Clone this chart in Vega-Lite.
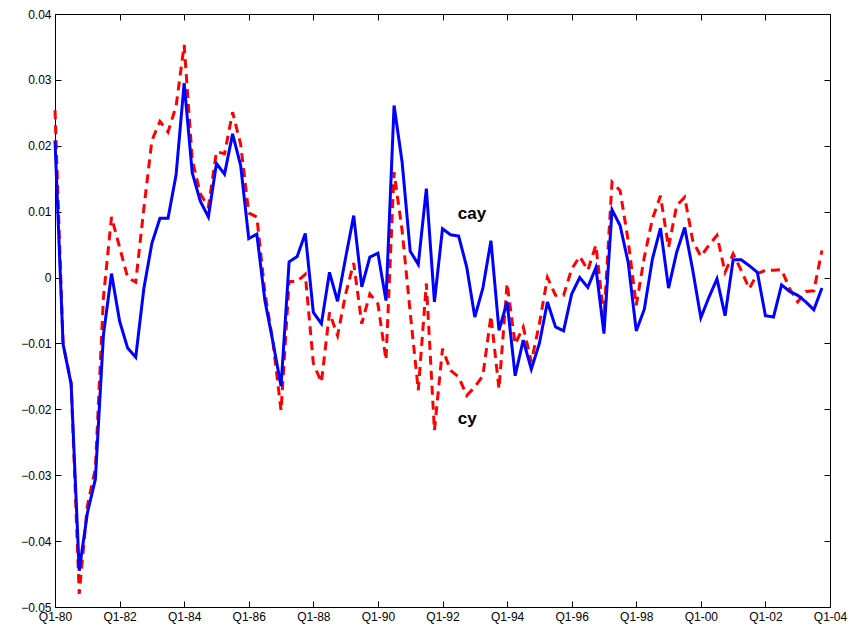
{
  "$schema": "https://vega.github.io/schema/vega-lite/v6.json",
  "width": 775,
  "height": 593,
  "autosize": "none",
  "padding": {"left": 55, "top": 14, "right": 23, "bottom": 30},
  "background": "white",
  "config": {
    "view": {"stroke": "black", "strokeWidth": 1},
    "font": "Liberation Sans",
    "axis": {"grid": false, "domain": false, "tickColor": "black", "tickSize": -6, "labelColor": "black", "labelFontSize": 12, "labelPadding": 10, "title": null}
  },
  "data": {"values": [
    {"t":0,"cay":0.0208,"cy":0.0254},{"t":1,"cay":-0.0101,"cy":-0.0101},{"t":2,"cay":-0.0162,"cy":-0.016},
    {"t":3,"cay":-0.0445,"cy":-0.048},{"t":4,"cay":-0.0358,"cy":-0.0347},{"t":5,"cay":-0.0306,"cy":-0.029},
    {"t":6,"cay":-0.0087,"cy":-0.003},{"t":7,"cay":0.0006,"cy":0.0092},{"t":8,"cay":-0.0066,"cy":0.0046},
    {"t":9,"cay":-0.0107,"cy":0.0},{"t":10,"cay":-0.0121,"cy":-0.0007},{"t":11,"cay":-0.0017,"cy":0.0104},
    {"t":12,"cay":0.0052,"cy":0.0208},{"t":13,"cay":0.009,"cy":0.0237},{"t":14,"cay":0.009,"cy":0.0221},
    {"t":15,"cay":0.0156,"cy":0.026},{"t":16,"cay":0.0295,"cy":0.0353},{"t":17,"cay":0.0159,"cy":0.0179},
    {"t":18,"cay":0.0116,"cy":0.0127},{"t":19,"cay":0.0092,"cy":0.0107},{"t":20,"cay":0.0173,"cy":0.0191},
    {"t":21,"cay":0.0157,"cy":0.0188},{"t":22,"cay":0.0218,"cy":0.0251},{"t":23,"cay":0.017,"cy":0.0202},
    {"t":24,"cay":0.0059,"cy":0.0098},{"t":25,"cay":0.0066,"cy":0.0092},{"t":26,"cay":-0.0035,"cy":-0.0023},
    {"t":27,"cay":-0.0098,"cy":-0.0098},{"t":28,"cay":-0.0165,"cy":-0.0202},{"t":29,"cay":0.0024,"cy":-0.0006},
    {"t":30,"cay":0.0032,"cy":-0.0006},{"t":31,"cay":0.0067,"cy":0.0005},{"t":32,"cay":-0.0053,"cy":-0.013},
    {"t":33,"cay":-0.007,"cy":-0.0159},{"t":34,"cay":0.0008,"cy":-0.0053},{"t":35,"cay":-0.0036,"cy":-0.0088},
    {"t":36,"cay":0.003,"cy":-0.0025},{"t":37,"cay":0.0094,"cy":0.0022},{"t":38,"cay":-0.0014,"cy":-0.007},
    {"t":39,"cay":0.0031,"cy":-0.0025},{"t":40,"cay":0.0037,"cy":-0.004},{"t":41,"cay":-0.0035,"cy":-0.0125},
    {"t":42,"cay":0.0261,"cy":0.016},{"t":43,"cay":0.0175,"cy":0.0071},{"t":44,"cay":0.004,"cy":-0.0053},
    {"t":45,"cay":0.002,"cy":-0.0171},{"t":46,"cay":0.0135,"cy":-0.0009},{"t":47,"cay":-0.0037,"cy":-0.0232},
    {"t":48,"cay":0.0074,"cy":-0.0108},{"t":49,"cay":0.0065,"cy":-0.0141},{"t":50,"cay":0.0063,"cy":-0.0151},
    {"t":51,"cay":0.0016,"cy":-0.0179},{"t":52,"cay":-0.006,"cy":-0.0166},{"t":53,"cay":-0.0016,"cy":-0.0149},
    {"t":54,"cay":0.0056,"cy":-0.0058},{"t":55,"cay":-0.008,"cy":-0.0169},{"t":56,"cay":-0.0037,"cy":-0.0009},
    {"t":57,"cay":-0.0149,"cy":-0.0101},{"t":58,"cay":-0.0095,"cy":-0.0075},{"t":59,"cay":-0.0139,"cy":-0.0128},
    {"t":60,"cay":-0.01,"cy":-0.007},{"t":61,"cay":-0.0037,"cy":0.0},{"t":62,"cay":-0.0075,"cy":-0.0027},
    {"t":63,"cay":-0.0081,"cy":-0.0027},{"t":64,"cay":-0.0025,"cy":0.0013},{"t":65,"cay":0.0,"cy":0.0032},
    {"t":66,"cay":-0.0015,"cy":0.0011},{"t":67,"cay":0.0015,"cy":0.0049},{"t":68,"cay":-0.0085,"cy":-0.006},
    {"t":69,"cay":0.0103,"cy":0.0145},{"t":70,"cay":0.0079,"cy":0.0132},{"t":71,"cay":0.0023,"cy":0.0056},
    {"t":72,"cay":-0.0081,"cy":-0.0042},{"t":73,"cay":-0.0048,"cy":0.0031},{"t":74,"cay":0.0028,"cy":0.0089},
    {"t":75,"cay":0.0075,"cy":0.0124},{"t":76,"cay":-0.0016,"cy":0.0046},{"t":77,"cay":0.0038,"cy":0.0109},
    {"t":78,"cay":0.0076,"cy":0.0122},{"t":79,"cay":0.0011,"cy":0.0056},{"t":80,"cay":-0.0061,"cy":0.0032},
    {"t":81,"cay":-0.003,"cy":0.0049},{"t":82,"cay":-0.0002,"cy":0.0064},{"t":83,"cay":-0.0058,"cy":0.0008},
    {"t":84,"cay":0.0027,"cy":0.0036},{"t":85,"cay":0.0027,"cy":0.0011},{"t":86,"cay":0.0018,"cy":-0.0017},
    {"t":87,"cay":0.0008,"cy":0.0006},{"t":88,"cay":-0.0058,"cy":0.0011},{"t":89,"cay":-0.006,"cy":0.0011},
    {"t":90,"cay":-0.0011,"cy":0.0012},{"t":91,"cay":-0.0021,"cy":-0.0017},{"t":92,"cay":-0.0027,"cy":-0.0037},
    {"t":93,"cay":-0.0037,"cy":-0.0021},{"t":94,"cay":-0.0049,"cy":-0.002},{"t":95,"cay":-0.0016,"cy":0.0041}
  ]},
  "layer": [
    {
      "mark": {"type": "line", "color": "#ff0000", "strokeWidth": 3, "strokeDash": [9, 6]},
      "encoding": {
        "x": {"field": "t", "type": "quantitative", "scale": {"domain": [0, 96], "nice": false},
          "axis": {"values": [0, 8, 16, 24, 32, 40, 48, 56, 64, 72, 80, 88, 96], "labelExpr": "'Q1-' + (datum.value/4 + 80 >= 100 ? '0' + (datum.value/4 - 20) : (datum.value/4 + 80))", "labelFlush": false, "labelOverlap": false}},
        "y": {"field": "cy", "type": "quantitative", "scale": {"domain": [-0.05, 0.04], "nice": false},
          "axis": {"values": [-0.05, -0.04, -0.03, -0.02, -0.01, 0, 0.01, 0.02, 0.03, 0.04], "format": ".2~f", "labelFlush": false, "labelOverlap": false}}
      }
    },
    {
      "mark": {"type": "line", "color": "#0000ff", "strokeWidth": 3},
      "encoding": {
        "x": {"field": "t", "type": "quantitative", "axis": {"orient": "top", "values": [0, 8, 16, 24, 32, 40, 48, 56, 64, 72, 80, 88, 96], "labels": false}},
        "y": {"field": "cay", "type": "quantitative", "axis": {"orient": "right", "values": [-0.05, -0.04, -0.03, -0.02, -0.01, 0, 0.01, 0.02, 0.03, 0.04], "labels": false}}
      }
    },
    {
      "data": {"values": [{"t": 49.9, "v": 0.0097, "label": "cay"}, {"t": 49.9, "v": -0.0215, "label": "cy"}]},
      "mark": {"type": "text", "align": "left", "fontWeight": "bold", "fontSize": 17, "color": "black"},
      "encoding": {
        "x": {"field": "t", "type": "quantitative", "axis": null},
        "y": {"field": "v", "type": "quantitative", "axis": null},
        "text": {"field": "label"}
      }
    }
  ],
  "resolve": {"axis": {"x": "independent", "y": "independent"}}
}
